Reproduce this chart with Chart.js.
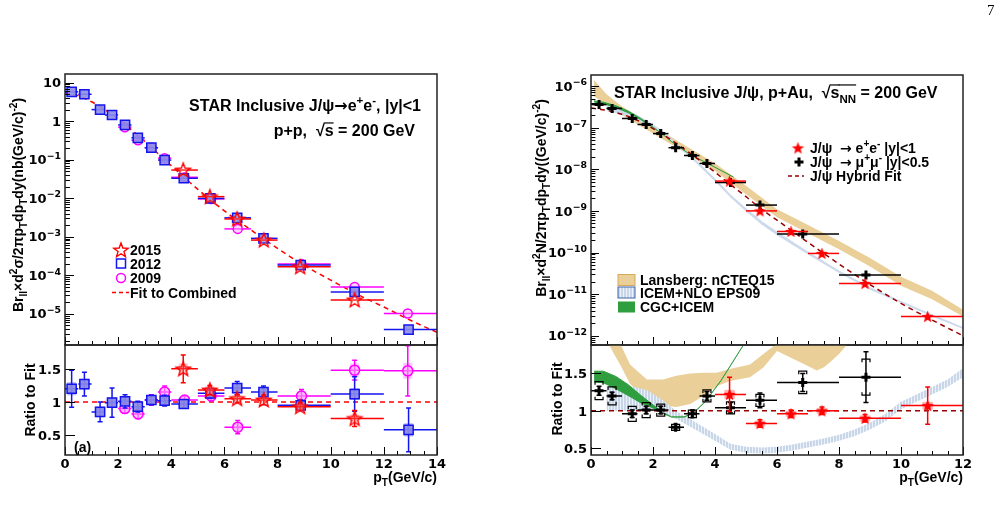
<!DOCTYPE html>
<html>
<head>
<meta charset="utf-8">
<script src="https://cdn.jsdelivr.net/npm/chart.js@4.4.0/dist/chart.umd.min.js"></script>
<style>
  html, body { margin: 0; padding: 0; background: #fff; }
  #wrap { position: relative; width: 1005px; height: 521px; overflow: hidden; }
  #wrap canvas { position: absolute; left: 0; top: 0; }
  #page { position: absolute; left: 987px; top: 2px; font: 15px 'Liberation Serif', serif; }
</style>
</head>
<body>
<div id="wrap">
  <canvas id="ppMain" width="1005" height="521"></canvas>
  <canvas id="ppRatio" width="1005" height="521"></canvas>
  <canvas id="paMain" width="1005" height="521"></canvas>
  <canvas id="paRatio" width="1005" height="521"></canvas>
  <div id="page">7</div>
</div>
<script>
// ---------- p+p (left) ----------
const pp2012Pt = [0.25, 0.73, 1.32, 1.77, 2.26, 2.74, 3.25, 3.75, 4.47, 5.47, 6.48, 7.47, 8.87, 10.9, 12.93]
const pp2012Lo = [0, 0.5, 1, 1.5, 2, 2.5, 3, 3.5, 4, 5, 6, 7, 8, 10, 12]
const pp2012Hi = [0.5, 1, 1.5, 2, 2.5, 3, 3.5, 4, 5, 6, 7, 8, 10, 12, 14]
const pp2012Y = [5.8, 5.0, 2.0, 1.45, 0.80, 0.37, 0.205, 0.098, 0.033, 0.0099, 0.0031, 9.1e-4, 1.84e-4, 3.7e-5, 3.9e-6]
const pp2012Ratio = [1.20, 1.27, 0.85, 0.99, 1.01, 0.93, 1.03, 1.02, 0.97, 1.13, 1.21, 1.15, 0.95, 1.12, 0.58]
const pp2012Err = [0.28, 0.18, 0.15, 0.22, 0.10, 0.08, 0.07, 0.08, 0.06, 0.07, 0.10, 0.09, 0.08, 0.26, 0.33]
const pp2012Sys = [0.10, 0.08, 0.08, 0.08, 0.06, 0.06, 0.06, 0.06, 0.05, 0.06, 0.07, 0.07, 0.06, 0.09, 0.10]

const pp2015Pt = [4.45, 5.45, 6.48, 7.48, 8.85, 10.9]
const pp2015Lo = [4, 5, 6, 7, 8, 10]
const pp2015Hi = [5, 6, 7, 8, 10, 12]
const pp2015Y = [0.054, 0.011, 0.0029, 8.2e-4, 1.66e-4, 2.3e-5]
const pp2015Ratio = [1.50, 1.18, 1.05, 1.03, 0.93, 0.75]
const pp2015Err = [0.21, 0.07, 0.06, 0.07, 0.06, 0.12]
const pp2015Sys = [0.08, 0.06, 0.05, 0.05, 0.05, 0.06]

const pp2009Pt = [2.25, 2.75, 3.25, 3.75, 4.5, 5.5, 6.5, 8.9, 10.9, 12.9]
const pp2009Lo = [2, 2.5, 3, 3.5, 4, 5, 6, 8, 10, 12]
const pp2009Hi = [2.5, 3, 3.5, 4, 5, 6, 7, 10, 12, 14]
const pp2009Y = [0.70, 0.32, 0.205, 0.11, 0.035, 0.0096, 0.0016, 1.95e-4, 5.0e-5, 1.02e-5]
const pp2009Ratio = [0.90, 0.82, 1.03, 1.15, 1.03, 1.09, 0.62, 1.09, 1.48, 1.47]
const pp2009Err = [0.07, 0.07, 0.08, 0.09, 0.06, 0.07, 0.10, 0.10, 0.15, 0.38]
const pp2009Sys = [0.06, 0.06, 0.06, 0.06, 0.05, 0.06, 0.06, 0.07, 0.10, 0.12]

const ppFitPt = [0, 0.5, 1, 1.5, 2, 2.5, 3, 3.5, 4, 5, 6, 7, 8, 9, 10, 11, 12, 13, 14]
const ppFitY = [5.6, 4.6, 3.2, 2.0, 1.15, 0.6, 0.3, 0.145, 0.07, 0.017, 0.0047, 0.0015, 5.0e-4, 1.8e-4, 7.5e-5, 3.2e-5, 1.5e-5, 6.8e-6, 3.3e-6]

// ---------- p+Au (right) ----------
const paMuPt = [0.26, 0.68, 1.33, 1.78, 2.25, 2.73, 3.27, 3.74, 4.5, 5.45, 6.83, 8.87]
const paMuLo = [0, 0.5, 1, 1.5, 2, 2.5, 3, 3.5, 4, 5, 6, 8]
const paMuHi = [0.5, 1, 1.5, 2, 2.5, 3, 3.5, 4, 5, 6, 8, 10]
const paMuY = [3.58e-7, 2.9e-7, 1.66e-7, 1.19e-7, 7.2e-8, 3.3e-8, 2.14e-8, 1.38e-8, 4.8e-9, 1.38e-9, 2.8e-10, 2.9e-11]
const paMuRatio = [1.27, 1.20, 0.96, 1.01, 1.01, 0.78, 0.96, 1.20, 1.04, 1.14, 1.38, 1.45]
const paMuErr = [0.06, 0.05, 0.05, 0.05, 0.05, 0.04, 0.05, 0.06, 0.07, 0.10, 0.12, 0.34]
const paMuSys = [0.12, 0.12, 0.10, 0.10, 0.08, 0.04, 0.05, 0.08, 0.08, 0.08, 0.15, 0.24]

const paEPt = [4.47, 5.45, 6.45, 7.45, 8.84, 10.86]
const paELo = [4, 5, 6, 7, 8, 10]
const paEHi = [5, 6, 7, 8, 10, 12]
const paEY = [5.2e-9, 1.0e-9, 3.2e-10, 9.5e-11, 1.8e-11, 2.9e-12]
const paERatio = [1.22, 0.83, 0.96, 1.00, 0.90, 1.07]
const paEErr = [0.23, 0.05, 0.05, 0.05, 0.05, 0.25]
const paESys = [0.06, 0.04, 0.04, 0.04, 0.04, 0.05]

const paFitPt = [0, 0.5, 1, 1.5, 2, 2.5, 3, 3.5, 4, 4.5, 5, 5.5, 6, 7, 8, 9, 10, 11, 12]
const paFitY = [2.95e-7, 2.6e-7, 2.1e-7, 1.5e-7, 9.5e-8, 5.6e-8, 3.1e-8, 1.65e-8, 8.5e-9, 4.3e-9, 2.2e-9, 1.1e-9, 6.0e-10, 1.75e-10, 5.3e-11, 1.7e-11, 6.0e-12, 2.4e-12, 1.0e-12]

// model bands, main panel
const lansPt = [0.1, 0.5, 1, 1.5, 2, 3, 4, 5, 6, 7, 8, 9, 10, 11, 12]
const lansUp = [1.4e-6, 6.3e-7, 3.2e-7, 1.9e-7, 1.1e-7, 3.9e-8, 1.4e-8, 4.0e-9, 1.1e-9, 4.6e-10, 1.9e-10, 7.4e-11, 2.6e-11, 1.2e-11, 4.2e-12]
const lansLow = [5.6e-7, 3.6e-7, 2.0e-7, 1.2e-7, 7.2e-8, 2.6e-8, 9.1e-9, 2.5e-9, 7.0e-10, 2.9e-10, 1.2e-10, 4.6e-11, 1.6e-11, 7.5e-12, 2.9e-12]
const icemPt = [0.5, 1.3, 1.8, 2.3, 2.8, 3.4, 4, 4.5, 5, 5.5, 6, 7, 8, 9, 10, 11, 12]
const icemUp = [3.46e-7, 2.33e-7, 1.47e-7, 8.3e-8, 3.9e-8, 1.6e-8, 5.9e-9, 2.4e-9, 1.14e-9, 5.6e-10, 3.1e-10, 1.03e-10, 3.6e-11, 1.43e-11, 6.7e-12, 3.2e-12, 1.57e-12]
const icemLow = [2.6e-7, 1.75e-7, 1.15e-7, 7.1e-8, 3.5e-8, 1.4e-8, 5.1e-9, 2.1e-9, 9.7e-10, 4.7e-10, 2.6e-10, 8.9e-11, 3.2e-11, 1.28e-11, 6.1e-12, 2.9e-12, 1.45e-12]
const cgcPt = [0.1, 0.4, 0.8, 1.2, 1.6, 2.0, 2.3, 2.6, 3.0, 3.3, 3.7, 4.2, 4.6]
const cgcUp = [4.4e-7, 4.08e-7, 3.36e-7, 2.5e-7, 1.67e-7, 1.03e-7, 7.06e-8, 4.6e-8, 2.85e-8, 2.04e-8, 1.47e-8, 9.3e-9, 6.5e-9]
const cgcLow = [4.0e-7, 3.66e-7, 2.97e-7, 2.22e-7, 1.52e-7, 9.8e-8, 6.9e-8, 4.55e-8, 2.82e-8, 2.02e-8, 1.46e-8, 9.2e-9, 6.4e-9]

// model bands, ratio panel
const lansRPt = [0.56, 0.77, 0.94, 1.26, 1.8, 2.33, 2.75, 3.2, 3.62, 4.05, 4.48, 5.13, 5.56, 6.0, 6.5, 7.0, 7.28, 7.5, 7.71, 8.0, 8.25]
const lansRUp = [2.5, 2.0, 1.9, 1.62, 1.42, 1.42, 1.47, 1.5, 1.51, 1.51, 1.56, 1.62, 1.76, 1.9, 2.5, 2.5, 2.5, 2.5, 2.5, 2.5, 2.5]
const lansRLow = [1.9, 1.74, 1.62, 1.36, 1.16, 1.07, 1.05, 1.09, 1.2, 1.33, 1.40, 1.45, 1.58, 1.8, 1.7, 1.6, 1.54, 1.58, 1.65, 1.76, 1.88]
const icemRPt = [0.5, 1.3, 1.8, 2.3, 2.8, 3.4, 4.0, 4.5, 5.0, 5.5, 6.0, 6.5, 7.0, 7.5, 8.0, 8.5, 9.0, 9.5, 10.0, 10.5, 11.0, 11.5, 12.0]
const icemRUp = [1.33, 1.33, 1.28, 1.15, 0.98, 0.84, 0.69, 0.56, 0.52, 0.51, 0.52, 0.55, 0.59, 0.63, 0.68, 0.75, 0.84, 0.96, 1.12, 1.22, 1.32, 1.42, 1.57]
const icemRLow = [1.0, 1.0, 1.0, 0.98, 0.88, 0.74, 0.60, 0.48, 0.44, 0.43, 0.44, 0.47, 0.51, 0.55, 0.60, 0.66, 0.75, 0.86, 1.02, 1.12, 1.22, 1.32, 1.45]
const cgcRPt = [0.1, 0.4, 0.8, 1.2, 1.6, 2.0, 2.3, 2.6, 3.0, 3.3, 3.7, 4.2, 4.9]
const cgcRUp = [1.53, 1.53, 1.46, 1.35, 1.21, 1.08, 0.98, 0.92, 0.92, 0.97, 1.13, 1.41, 1.87]
const cgcRLow = [1.38, 1.37, 1.29, 1.20, 1.10, 1.03, 0.96, 0.91, 0.91, 0.96, 1.12, 1.40, 1.86]

// axis ticks
const ppXTicks = [0, 2, 4, 6, 8, 10, 12, 14]
const paXTicks = [0, 2, 4, 6, 8, 10, 12]
const ppYTicks = [1e-5, 1e-4, 1e-3, 1e-2, 1e-1, 1, 10]
const ppYLabels = ['10^−5', '10^−4', '10^−3', '10^−2', '10^−1', '1', '10']
const paYTicks = [1e-12, 1e-11, 1e-10, 1e-9, 1e-8, 1e-7, 1e-6]
const paYLabels = ['10^−12', '10^−11', '10^−10', '10^−9', '10^−8', '10^−7', '10^−6']
const ratioTicks = [0.5, 1, 1.5]
const ratioLabels = ['0.5', '1', '1.5']

const W = 1005, H = 521
const FONT = "'Liberation Sans', Arial, sans-serif"
const TICK = "'DejaVu Sans', sans-serif"
const ARROW = "'DejaVu Sans', sans-serif"

const pts = (xs, ys) => xs.map((x, i) => ({ x, y: ys[i] }))

// marker images (ROOT open / filled star)
function starImg(r, fill, stroke, lw) {
  const s = Math.ceil(2 * r + 2 * lw + 2)
  const c = document.createElement('canvas')
  c.width = c.height = s
  const g = c.getContext('2d')
  g.beginPath()
  for (let i = 0; i < 10; i++) {
    const rr = i % 2 ? r * 0.42 : r
    const a = -Math.PI / 2 + i * Math.PI / 5
    const px = s / 2 + rr * Math.cos(a), py = s / 2 + rr * Math.sin(a) + r * 0.08
    if (i) g.lineTo(px, py); else g.moveTo(px, py)
  }
  g.closePath()
  if (fill) { g.fillStyle = fill; g.fill() }
  if (stroke) { g.strokeStyle = stroke; g.lineWidth = lw; g.stroke() }
  return c
}
const starOpen = starImg(7.5, 'rgba(255,255,255,0.15)', '#ff0000', 1.4)
const starFull = starImg(6.5, '#ff0000', null, 0)

function hatch(canvasId) {
  const c = document.createElement('canvas')
  c.width = 3; c.height = 3
  const g = c.getContext('2d')
  g.fillStyle = 'rgb(200,214,232)'
  g.fillRect(0, 0, 3, 3)
  g.fillStyle = 'rgb(236,242,250)'
  g.fillRect(2, 0, 1, 3)
  return document.getElementById(canvasId).getContext('2d').createPattern(c, 'repeat')
}

// text with sub/superscripts: parts = [[text, mode(0|1 sup|-1 sub), overline, family]]
function rich(ctx, parts, x, y, size, align, family) {
  const items = parts.map(([t, m, over, f]) => {
    const fs = m ? size * 0.72 : size
    const fam = f || family || FONT
    ctx.font = `bold ${fs}px ${fam}`
    return { t, m, over, fs, fam, w: ctx.measureText(t).width }
  })
  const total = items.reduce((s, it) => s + it.w, 0)
  let cx = align === 'right' ? x - total : align === 'center' ? x - total / 2 : x
  ctx.textAlign = 'left'
  ctx.textBaseline = 'alphabetic'
  const base = y + size * 0.36
  for (const it of items) {
    ctx.font = `bold ${it.fs}px ${it.fam}`
    const dy = it.m === 1 ? -size * 0.42 : it.m === -1 ? size * 0.3 : 0
    ctx.fillText(it.t, cx, base + dy)
    if (it.over) {
      ctx.save()
      ctx.lineWidth = 1.2
      ctx.strokeStyle = ctx.fillStyle
      ctx.beginPath()
      ctx.moveTo(cx - 1, base - size * 0.8)
      ctx.lineTo(cx + it.w, base - size * 0.8)
      ctx.stroke()
      ctx.restore()
    }
    cx += it.w
  }
  return total
}

function richRot(ctx, parts, x, y, size) {
  ctx.save()
  ctx.translate(x, y)
  ctx.rotate(-Math.PI / 2)
  rich(ctx, parts, 0, 0, size, 'center')
  ctx.restore()
}

function tickLabel(ctx, lab, x, y, align) {
  const [b, e] = lab.split('^')
  const parts = e ? [[b, 0], [e, 1]] : [[b, 0]]
  rich(ctx, parts, x, y, 13, align || 'right', TICK)
}

// error bars, systematic boxes / brackets
const errBars = {
  id: 'errBars',
  beforeDatasetDraw(chart, args) {
    const ds = chart.data.datasets[args.index]
    if (!ds.xlo && !ds.err && !ds.sys) return
    const { ctx, chartArea: a, scales: { x, y } } = chart
    ctx.save()
    ctx.beginPath()
    ctx.rect(a.left, a.top, a.right - a.left, a.bottom - a.top)
    ctx.clip()
    ds.data.forEach((p, i) => {
      const px = x.getPixelForValue(p.x), py = y.getPixelForValue(p.y)
      if (ds.sys) {
        const y0 = y.getPixelForValue(p.y + ds.sys[i]), y1 = y.getPixelForValue(p.y - ds.sys[i])
        if (ds.sysKind === 'bracket') {
          ctx.strokeStyle = ds.errColor
          ctx.lineWidth = 1.2
          ctx.beginPath()
          ctx.moveTo(px - 4, y0 + 3); ctx.lineTo(px - 4, y0); ctx.lineTo(px + 4, y0); ctx.lineTo(px + 4, y0 + 3)
          ctx.moveTo(px - 4, y1 - 3); ctx.lineTo(px - 4, y1); ctx.lineTo(px + 4, y1); ctx.lineTo(px + 4, y1 - 3)
          ctx.stroke()
        } else {
          const x0 = x.getPixelForValue(p.x - ds.sysW), x1 = x.getPixelForValue(p.x + ds.sysW)
          ctx.fillStyle = ds.sysColor
          ctx.fillRect(x0, y0, x1 - x0, y1 - y0)
        }
      }
      ctx.strokeStyle = ds.errColor
      ctx.lineWidth = 1.5
      ctx.beginPath()
      if (ds.xlo) {
        ctx.moveTo(x.getPixelForValue(ds.xlo[i]), py)
        ctx.lineTo(x.getPixelForValue(ds.xhi[i]), py)
      }
      if (ds.err) {
        const e0 = y.getPixelForValue(p.y + ds.err[i]), e1 = y.getPixelForValue(p.y - ds.err[i])
        ctx.moveTo(px, e0); ctx.lineTo(px, e1)
        ctx.moveTo(px - 2.5, e0); ctx.lineTo(px + 2.5, e0)
        ctx.moveTo(px - 2.5, e1); ctx.lineTo(px + 2.5, e1)
      }
      ctx.stroke()
    })
    ctx.restore()
  }
}

// ROOT-like frame with inner tick marks
const rootAxes = {
  id: 'rootAxes',
  afterDatasetsDraw(chart, args, o) {
    const { ctx, chartArea: a, scales: { x, y } } = chart
    ctx.save()
    ctx.strokeStyle = '#000'
    ctx.lineWidth = 1
    ctx.beginPath()
    for (let v = x.min; v <= x.max + 1e-9; v += o.xMinor) {
      const px = Math.round(x.getPixelForValue(v)) + 0.5
      const major = Math.abs(v / o.xMajor - Math.round(v / o.xMajor)) < 1e-6
      ctx.moveTo(px, a.bottom)
      ctx.lineTo(px, a.bottom - (major ? o.xLen : o.xLen * 0.5))
    }
    if (o.yLog) {
      const d0 = Math.floor(Math.log10(y.min)), d1 = Math.ceil(Math.log10(y.max))
      for (let d = d0; d <= d1; d++) {
        for (let m = 1; m < 10; m++) {
          const v = m * Math.pow(10, d)
          if (v < y.min || v > y.max) continue
          const py = Math.round(y.getPixelForValue(v)) + 0.5
          ctx.moveTo(a.left, py)
          ctx.lineTo(a.left + (m === 1 ? o.yLen : o.yLen * 0.55), py)
        }
      }
    } else {
      o.yTicks.forEach(v => {
        const py = Math.round(y.getPixelForValue(v)) + 0.5
        ctx.moveTo(a.left, py)
        ctx.lineTo(a.left + o.yLen, py)
      })
    }
    ctx.stroke()
    ctx.lineWidth = 1.5
    ctx.strokeStyle = '#222'
    ctx.strokeRect(a.left, a.top, a.right - a.left, a.bottom - a.top)
    ctx.restore()
  }
}

function makeChart(id, cfg) {
  const [l, t, r, b] = cfg.area
  return new Chart(document.getElementById(id), {
    type: 'scatter',
    data: { datasets: cfg.datasets },
    options: {
      responsive: false,
      animation: false,
      events: [],
      layout: { padding: { left: l, top: t, right: W - r, bottom: H - b } },
      scales: {
        x: { type: 'linear', min: cfg.x[0], max: cfg.x[1], display: false },
        y: { type: cfg.log ? 'logarithmic' : 'linear', min: cfg.y[0], max: cfg.y[1], display: false }
      },
      plugins: {
        legend: { display: false },
        tooltip: { enabled: false },
        rootAxes: cfg.axes
      }
    },
    plugins: [errBars, rootAxes, { id: 'deco', afterDraw: cfg.deco }]
  })
}

const line = (xs, ys, color, dash, order) => ({
  data: pts(xs, ys), showLine: true, pointRadius: 0, borderColor: color,
  borderWidth: 1.5, borderDash: dash, cubicInterpolationMode: 'monotone', order
})
const band = (xs, up, low, color, border, order) => [
  { data: pts(xs, up), showLine: true, pointRadius: 0, borderColor: border || color,
    borderWidth: border ? 1 : 0, backgroundColor: color, fill: '+1', order },
  { data: pts(xs, low), showLine: true, pointRadius: 0, borderWidth: 0, borderColor: color, fill: false, order }
]

const blue = '#1414ee', red = '#ff0000', magenta = '#ff00ff'
const tan = 'rgb(234,207,152)', green = '#2e9e3e', darkRed = '#990000'

// ---------- left main ----------
makeChart('ppMain', {
  area: [65, 74, 437, 345], x: [0, 14], y: [1.55e-6, 16.8], log: true,
  axes: { xMajor: 2, xMinor: 0.5, xLen: 8, yLog: true, yLen: 9 },
  datasets: [
    { data: pts(pp2015Pt, pp2015Y), xlo: pp2015Lo, xhi: pp2015Hi, errColor: red,
      pointStyle: starOpen, pointRadius: 5, order: 0 },
    { data: pts(pp2012Pt, pp2012Y), xlo: pp2012Lo, xhi: pp2012Hi, errColor: blue,
      pointStyle: 'rect', pointRadius: 6.5, pointBackgroundColor: 'rgba(140,140,230,0.9)',
      pointBorderColor: blue, pointBorderWidth: 1.5, order: 1 },
    { data: pts(pp2009Pt, pp2009Y), xlo: pp2009Lo, xhi: pp2009Hi, errColor: magenta,
      pointStyle: 'circle', pointRadius: 4.5, pointBackgroundColor: 'rgba(255,170,255,0.5)',
      pointBorderColor: magenta, pointBorderWidth: 1.5, order: 2 },
    line(ppFitPt, ppFitY, red, [5, 4], 3)
  ],
  deco(chart) {
    const { ctx, scales: { y } } = chart
    ctx.save()
    ctx.fillStyle = '#000'
    ppYTicks.forEach((v, i) => tickLabel(ctx, ppYLabels[i], 61, y.getPixelForValue(v)))
    richRot(ctx, [['Br', 0], ['ll', -1], ['×d', 0], ['2', 1], ['σ/2πp', 0], ['T', -1], ['dp', 0], ['T', -1],
      ['dy(nb(GeV/c)', 0], ['-2', 1], [')', 0]], 18, 205, 14)
    rich(ctx, [['STAR Inclusive J/ψ', 0], ['→', 0, false, ARROW], ['e', 0], ['+', 1], ['e', 0], ['-', 1], [', |y|<1', 0]], 421, 105, 16, 'right')
    rich(ctx, [['p+p,  √', 0], ['s', 0, true], [' = 200 GeV', 0]], 415, 130, 16, 'right')
    // legend
    ctx.drawImage(starOpen, 121 - starOpen.width / 2, 250 - starOpen.height / 2)
    ctx.strokeStyle = blue; ctx.lineWidth = 1.5
    ctx.strokeRect(116.5, 259, 9, 9)
    ctx.strokeStyle = magenta
    ctx.beginPath(); ctx.arc(121, 278, 4.5, 0, Math.PI * 2); ctx.stroke()
    ctx.strokeStyle = red; ctx.setLineDash([4, 3])
    ctx.beginPath(); ctx.moveTo(112, 292.5); ctx.lineTo(129, 292.5); ctx.stroke()
    ctx.setLineDash([])
    rich(ctx, [['2015', 0]], 130, 250, 14, 'left')
    rich(ctx, [['2012', 0]], 130, 264, 14, 'left')
    rich(ctx, [['2009', 0]], 130, 278, 14, 'left')
    rich(ctx, [['Fit to Combined', 0]], 130, 292.5, 14, 'left')
    ctx.restore()
  }
})

// ---------- left ratio ----------
makeChart('ppRatio', {
  area: [65, 345, 437, 455], x: [0, 14], y: [0.2, 1.86], log: false,
  axes: { xMajor: 2, xMinor: 0.5, xLen: 8, yLog: false, yTicks: ratioTicks, yLen: 10 },
  datasets: [
    { data: pts(pp2015Pt, pp2015Ratio), xlo: pp2015Lo, xhi: pp2015Hi, err: pp2015Err, sys: pp2015Sys,
      sysW: 0.17, sysColor: 'rgba(255,120,120,0.45)', errColor: red,
      pointStyle: starOpen, pointRadius: 5, order: 0 },
    { data: pts(pp2012Pt, pp2012Ratio), xlo: pp2012Lo, xhi: pp2012Hi, err: pp2012Err, sys: pp2012Sys,
      sysW: 0.17, sysColor: 'rgba(110,110,235,0.45)', errColor: blue,
      pointStyle: 'rect', pointRadius: 6.5, pointBackgroundColor: 'rgba(140,140,230,0.9)',
      pointBorderColor: blue, pointBorderWidth: 1.5, order: 1 },
    { data: pts(pp2009Pt, pp2009Ratio), xlo: pp2009Lo, xhi: pp2009Hi, err: pp2009Err, sys: pp2009Sys,
      sysW: 0.17, sysColor: 'rgba(255,120,255,0.45)', errColor: magenta,
      pointStyle: 'circle', pointRadius: 5, pointBackgroundColor: 'rgba(255,190,255,0.5)',
      pointBorderColor: magenta, pointBorderWidth: 1.5, order: 2 },
    line([0, 14], [1, 1], red, [5, 4], 3)
  ],
  deco(chart) {
    const { ctx, scales: { x, y } } = chart
    ctx.save()
    ctx.fillStyle = '#000'
    ratioTicks.forEach((v, i) => tickLabel(ctx, ratioLabels[i], 61, y.getPixelForValue(v)))
    ppXTicks.forEach(v => tickLabel(ctx, String(v), x.getPixelForValue(v), 463, 'center'))
    rich(ctx, [['p', 0], ['T', -1], ['(GeV/c)', 0]], 437, 477, 14, 'right')
    richRot(ctx, [['Ratio to Fit', 0]], 30, 400, 14)
    rich(ctx, [['(a)', 0]], 74, 447, 14, 'left')
    ctx.restore()
  }
})

// ---------- right main ----------
makeChart('paMain', {
  area: [591, 75, 963, 345], x: [0, 12], y: [6.3e-13, 1.84e-6], log: true,
  axes: { xMajor: 2, xMinor: 0.5, xLen: 8, yLog: true, yLen: 8 },
  datasets: [
    { data: pts(paEPt, paEY), xlo: paELo, xhi: paEHi, errColor: red,
      pointStyle: starFull, pointRadius: 5, order: 0 },
    { data: pts(paMuPt, paMuY), xlo: paMuLo, xhi: paMuHi, errColor: '#000',
      pointStyle: 'cross', pointRadius: 4.5, pointBorderColor: '#000', pointBorderWidth: 3, order: 1 },
    line(paFitPt, paFitY, darkRed, [5, 4], 2),
    ...band(cgcPt, cgcUp, cgcLow, green, green, 3),
    ...band(icemPt, icemUp, icemLow, 'rgb(205,218,236)', 'rgb(205,218,236)', 4),
    ...band(lansPt, lansUp, lansLow, tan, null, 5)
  ],
  deco(chart) {
    const { ctx, scales: { y } } = chart
    ctx.save()
    ctx.fillStyle = '#000'
    paYTicks.forEach((v, i) => tickLabel(ctx, paYLabels[i], 587, y.getPixelForValue(v)))
    richRot(ctx, [['Br', 0], ['ll', -1], ['×d', 0], ['2', 1], ['N/2πp', 0], ['T', -1], ['dp', 0], ['T', -1],
      ['dy((GeV/c)', 0], ['-2', 1], [')', 0]], 541, 198, 14)
    rich(ctx, [['STAR Inclusive J/ψ, p+Au,  √', 0], ['s', 0, true], ['NN', -1, true], [' = 200 GeV', 0]], 614, 92, 16, 'left')
    // upper legend
    ctx.drawImage(starFull, 798 - starFull.width / 2, 148 - starFull.height / 2)
    ctx.strokeStyle = '#000'; ctx.lineWidth = 3
    ctx.beginPath()
    ctx.moveTo(794.5, 162); ctx.lineTo(803.5, 162); ctx.moveTo(799, 157.5); ctx.lineTo(799, 166.5)
    ctx.stroke()
    ctx.strokeStyle = darkRed; ctx.lineWidth = 1.5; ctx.setLineDash([4, 3])
    ctx.beginPath(); ctx.moveTo(788, 176); ctx.lineTo(804, 176); ctx.stroke()
    ctx.setLineDash([])
    rich(ctx, [['J/ψ  ', 0], ['→', 0, false, ARROW], [' e', 0], ['+', 1], ['e', 0], ['-', 1], [' |y|<1', 0]], 810, 148, 14, 'left')
    rich(ctx, [['J/ψ  ', 0], ['→', 0, false, ARROW], [' μ', 0], ['+', 1], ['μ', 0], ['-', 1], [' |y|<0.5', 0]], 810, 162, 14, 'left')
    rich(ctx, [['J/ψ Hybrid Fit', 0]], 810, 176, 14, 'left')
    // lower legend
    ctx.lineWidth = 1
    ctx.fillStyle = tan; ctx.fillRect(618, 274.5, 17, 11)
    ctx.strokeStyle = 'rgb(215,170,90)'; ctx.strokeRect(618, 274.5, 17, 11)
    ctx.fillStyle = hatch('paMain'); ctx.fillRect(618, 287, 17, 11)
    ctx.strokeStyle = 'rgb(60,100,170)'; ctx.strokeRect(618, 287, 17, 11)
    ctx.fillStyle = green; ctx.fillRect(618, 301.5, 17, 11)
    ctx.fillStyle = '#000'
    rich(ctx, [['Lansberg: nCTEQ15', 0]], 640, 280, 14, 'left')
    rich(ctx, [['ICEM+NLO EPS09', 0]], 640, 292.5, 14, 'left')
    rich(ctx, [['CGC+ICEM', 0]], 640, 307, 14, 'left')
    ctx.restore()
  }
})

// ---------- right ratio ----------
makeChart('paRatio', {
  area: [591, 345, 963, 455], x: [0, 12], y: [0.41, 1.88], log: false,
  axes: { xMajor: 2, xMinor: 0.5, xLen: 8, yLog: false, yTicks: ratioTicks, yLen: 10 },
  datasets: [
    { data: pts(paEPt, paERatio), xlo: paELo, xhi: paEHi, err: paEErr, sys: paESys,
      sysW: 0.17, sysColor: 'rgba(255,110,110,0.5)', errColor: red,
      pointStyle: starFull, pointRadius: 5, order: 0 },
    { data: pts(paMuPt, paMuRatio), xlo: paMuLo, xhi: paMuHi, err: paMuErr, sys: paMuSys,
      sysKind: 'bracket', errColor: '#000',
      pointStyle: 'cross', pointRadius: 4.5, pointBorderColor: '#000', pointBorderWidth: 3, order: 1 },
    line([0, 12], [1, 1], darkRed, [5, 4], 2),
    ...band(cgcRPt, cgcRUp, cgcRLow, green, green, 3),
    ...band(icemRPt, icemRUp, icemRLow, hatch('paRatio'), null, 4),
    ...band(lansRPt, lansRUp, lansRLow, tan, null, 5)
  ],
  deco(chart) {
    const { ctx, scales: { x, y } } = chart
    ctx.save()
    ctx.fillStyle = '#000'
    ratioTicks.forEach((v, i) => tickLabel(ctx, ratioLabels[i], 587, y.getPixelForValue(v)))
    paXTicks.forEach(v => tickLabel(ctx, String(v), x.getPixelForValue(v), 463, 'center'))
    rich(ctx, [['p', 0], ['T', -1], ['(GeV/c)', 0]], 963, 477, 14, 'right')
    richRot(ctx, [['Ratio to Fit', 0]], 557, 399, 14)
    ctx.restore()
  }
})
</script>
</body>
</html>
